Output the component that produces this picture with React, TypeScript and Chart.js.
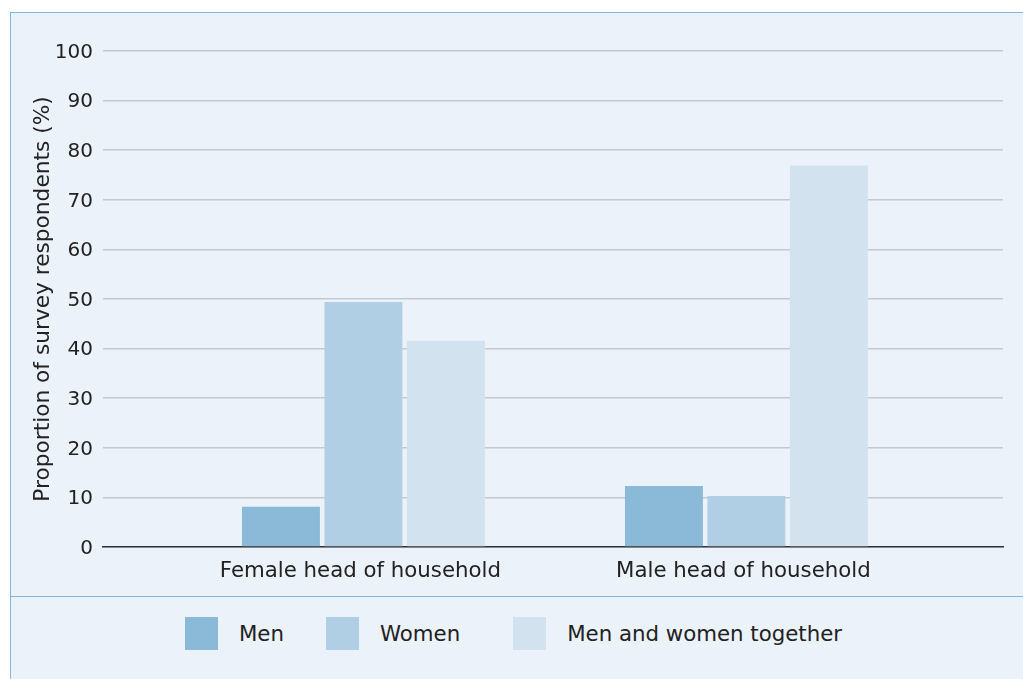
import { useEffect, useRef } from "react";
import { Chart, registerables } from "chart.js";

Chart.register(...registerables);

const categories = ["Female head of household", "Male head of household"];
const seriesNames = ["Men", "Women", "Men and women together"];
const menValues = [8.1, 12.3];
const womenValues = [49.4, 10.3];
const togetherValues = [41.6, 76.9];
const seriesValues = [menValues, womenValues, togetherValues];
const seriesColors = ["#8ABAD7", "#B1CFE4", "#D2E3EF"];
const yTitle = "Proportion of survey respondents (%)";

const FONT_FAMILY = "'DejaVu Sans', Verdana, sans-serif";
const TEXT_COLOR = "#222222";
const BG = "#EBF2F9";
const FRAME = "#7FBADB";
const LEGEND_ITEM_MARGINS = [42, 53, 0];

export default function App() {
  const canvasRef = useRef<HTMLCanvasElement | null>(null);

  useEffect(() => {
    const canvas = canvasRef.current;
    if (!canvas) return;
    const tickFont = { family: FONT_FAMILY, size: 20 };
    const labelFont = { family: FONT_FAMILY, size: 21.3 };
    const titleFont = { family: FONT_FAMILY, size: 21.7 };
    const chart = new Chart(canvas, {
      type: "bar",
      data: {
        datasets: seriesNames.map((name, s) => ({
          label: name,
          data: categories.map((_, i) => ({ x: i, y: seriesValues[s][i] })),
          backgroundColor: seriesColors[s],
          borderWidth: 0,
          categoryPercentage: 0.646,
          barPercentage: 0.945,
        })),
      },
      options: {
        responsive: false,
        animation: false,
        layout: { padding: { top: 38, right: 20, left: 0, bottom: 0 } },
        plugins: { legend: { display: false }, tooltip: { enabled: false } },
        scales: {
          x: {
            type: "linear",
            offset: false,
            min: -0.68,
            max: 1.67,
            grid: { display: false, drawTicks: false, offset: false },
            border: { display: true, color: "#333333", width: 1.5 },
            ticks: {
              stepSize: 1,
              includeBounds: false,
              autoSkip: false,
              maxRotation: 0,
              minRotation: 0,
              padding: 12,
              labelOffset: -3,
              font: labelFont,
              color: TEXT_COLOR,
              callback: (v: any) =>
                Number.isInteger(v) && categories[v] !== undefined ? categories[v] : "",
            },
            afterFit: (s: any) => {
              s.height = 49;
            },
          },
          y: {
            min: 0,
            max: 100,
            grid: { color: "#C4C9D0", lineWidth: 1.5, drawTicks: false },
            border: { display: false },
            ticks: { stepSize: 10, padding: 10, labelOffset: 1.5, font: tickFont, color: TEXT_COLOR },
            title: {
              display: true,
              text: yTitle,
              font: titleFont,
              color: TEXT_COLOR,
              padding: { top: 19, bottom: 0 },
            },
            afterFit: (s: any) => {
              s.width = 92;
            },
          },
        },
      },
    });
    return () => chart.destroy();
  }, []);

  return (
    <div
      style={{
        position: "absolute",
        left: 10,
        top: 12,
        width: 1013,
        height: 667,
        background: BG,
        borderLeft: `1px solid ${FRAME}`,
        borderTop: `1px solid ${FRAME}`,
        boxSizing: "border-box",
        fontFamily: FONT_FAMILY,
        color: TEXT_COLOR,
      }}
    >
      <canvas ref={canvasRef} width={1012} height={583} style={{ display: "block" }} />
      <div style={{ borderTop: `1.5px solid ${FRAME}` }} />
      <div
        style={{
          display: "flex",
          justifyContent: "center",
          alignItems: "center",
          paddingTop: 20,
          paddingRight: 7,
          fontSize: 21.3,
        }}
      >
        {seriesNames.map((name, i) => (
          <div
            key={name}
            style={{ display: "flex", alignItems: "center", marginRight: LEGEND_ITEM_MARGINS[i] }}
          >
            <span
              style={{
                display: "inline-block",
                width: 33,
                height: 33,
                background: seriesColors[i],
                marginRight: 21,
              }}
            />
            <span style={{ whiteSpace: "nowrap" }}>{name}</span>
          </div>
        ))}
      </div>
    </div>
  );
}
